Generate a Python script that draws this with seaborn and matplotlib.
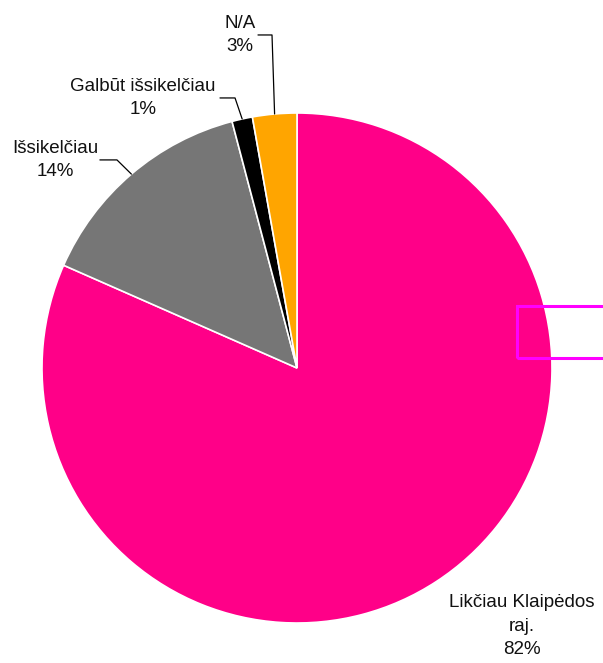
import matplotlib
matplotlib.use('Agg')
import numpy as np
import matplotlib.pyplot as plt
import seaborn as sns
from matplotlib.patches import Rectangle

# Duomenys (skaitomi iš paveikslo)
categories = ['Likčiau Klaipėdos\nraj.', 'Išsikelčiau', 'Galbūt išsikelčiau', 'N/A']
shares = [81.6, 14.3, 1.3, 2.8]
colors = ['#FF0088', '#767676', '#000000', '#FFA500']

sns.set_theme(style='white')
plt.rcParams['font.family'] = ['Liberation Sans', 'DejaVu Sans']

W, H = 603, 663
fig = plt.figure(figsize=(W / 100, H / 100), dpi=100)
cx, cy, r = 297, 368, 255
ax = fig.add_axes([(cx - r) / W, (H - cy - r) / H, 2 * r / W, 2 * r / H])

wedges, _ = ax.pie(shares, colors=colors, startangle=90, counterclock=False,
                   radius=1.0, wedgeprops=dict(edgecolor='white', linewidth=1.2))
ax.set_xlim(-1, 1)
ax.set_ylim(-1, 1)
ax.set_aspect('equal')
ax.axis('off')

total = sum(shares)
labels = [f'{c}\n{round(v / total * 100):.0f}%' for c, v in zip(categories, shares)]

# label centre (data coords) and leader elbow x offsets
label_pos = [(0.882, -1.012), (-0.949, 0.816), (-0.604, 1.059), (-0.224, 1.306)]
elbows = [None, (-0.773, -0.706), (-0.302, -0.243), (-0.153, -0.098)]

for w, lab, (tx, ty), elb in zip(wedges, labels, label_pos, elbows):
    ax.text(tx, ty, lab, ha='center', va='center', fontsize=13.5,
            color='#111111', linespacing=1.5, clip_on=False)
    if elb is not None:
        mid = np.deg2rad((w.theta1 + w.theta2) / 2)
        ex, ey = np.cos(mid), np.sin(mid)
        ax.plot([elb[0], elb[1], ex], [ty, ty, ey], color='black',
                linewidth=0.9, clip_on=False)

# magenta frame at the right edge
fig.patches.append(Rectangle((517 / W, (H - 358) / H), 100 / W, 52 / H,
                             transform=fig.transFigure, fill=False,
                             edgecolor='#FF00FF', linewidth=2.2))

fig.savefig('out.png', dpi=100)
